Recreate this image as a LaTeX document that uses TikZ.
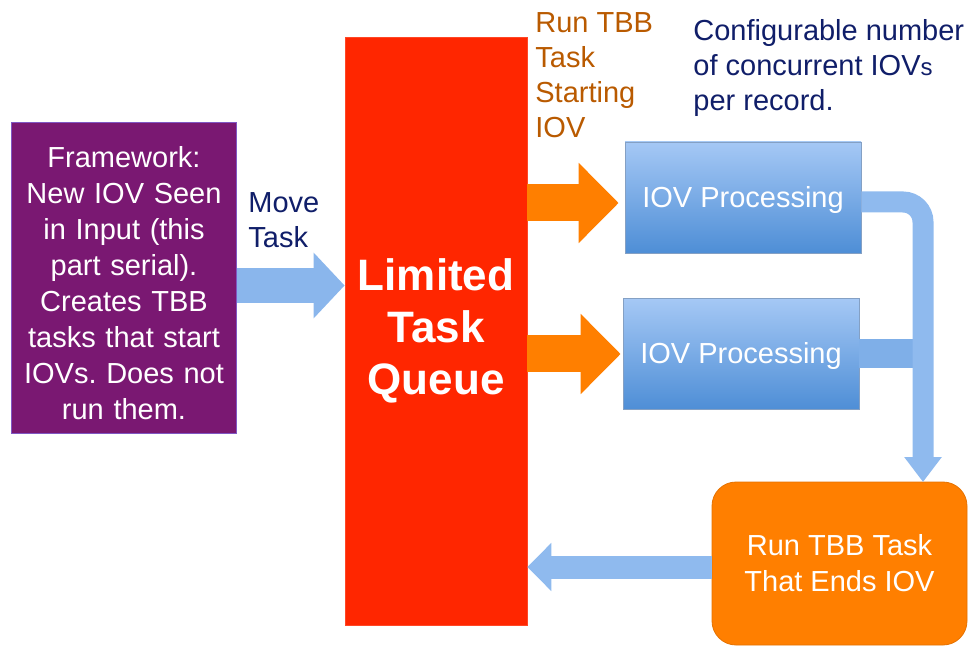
\documentclass[tikz,border=0pt]{standalone}
\usepackage{fontspec}
\setmainfont{Liberation Sans}
\usetikzlibrary{positioning, arrows.meta}
\frenchspacing

\definecolor{framepurple}{RGB}{122,24,114}
\definecolor{queuered}{RGB}{255,38,0}
\definecolor{taskorange}{RGB}{255,127,0}
\definecolor{labelorange}{RGB}{185,90,0}
\definecolor{labelnavy}{RGB}{16,30,105}
\definecolor{pipeblue}{RGB}{143,186,238}
\definecolor{boxtop}{RGB}{165,200,245}
\definecolor{boxbottom}{RGB}{78,142,214}

\begin{document}
\begin{tikzpicture}[
          x=0.5pt, y=-0.5pt,
          block/.style={
              rectangle, align=center, text=white,
              font=\fontsize{14.5}{18}\selectfont
          },
          iovbox/.style={
              block, top color=boxtop, bottom color=boxbottom, draw=boxtop!80!black,
              minimum width=118pt, minimum height=55.5pt, text height=13pt
          },
          label/.style={
              align=left, inner sep=0pt,
              font=\fontsize{14.5}{17.5}\selectfont
          },
          movearrow/.style={
              line width=17.5pt, draw=pipeblue!92!boxbottom,
              -{Triangle[length=15.5pt, width=32pt]}
          },
          runarrow/.style={
              line width=18.5pt, draw=taskorange,
              -{Triangle[length=20pt, width=39pt]}
          },
          pipe/.style={
              line width=10.5pt, draw=pipeblue, rounded corners=10pt,
              -{Triangle[length=12.5pt, width=18pt]}
          },
          stub/.style={line width=14.5pt, draw=pipeblue!75!boxbottom},
          backarrow/.style={
              line width=11.5pt, draw=pipeblue,
              -{Triangle[length=12pt, width=23.5pt]}
          },
      ]
          \useasboundingbox (0,0) rectangle (974,646);

          % Framework and queue blocks
          \node [block, fill=framepurple, draw=framepurple!60!blue!70!white,
                 text width=106pt, minimum width=110pt, minimum height=155.5pt, text height=16pt]
                 (frame) at (124,277.5)
                 {Framework:\\New IOV Seen\\in Input (this\\part serial).\\Creates TBB\\tasks that start\\IOVs. Does not\\run them.};
          \node [block, fill=queuered, draw=queuered!85!white,
                 minimum width=91pt, minimum height=294pt,
                 font=\fontsize{22}{26}\selectfont\bfseries]
                 (queue) at (436,331) {Limited\\Task\\Queue};

          % Processing blocks
          \node [iovbox] (iov1) at (743,197.5) {IOV Processing};
          \node [iovbox] (iov2) at (741,354) {IOV Processing};
          \node [block, fill=taskorange, draw=taskorange!90!black, rounded corners=12pt,
                 minimum width=127.5pt, minimum height=81.5pt]
                 (endtask) at (839.5,563.5) {Run TBB Task\\That Ends IOV};
          \coordinate (drop) at (923,482);

          % Labels
          \node [label, anchor=west, text=labelnavy] (movelabel) at (248,220) {Move\\Task};
          \node [label, anchor=west, text=labelorange] (runlabel) at (535,75.5) {Run TBB\\Task\\Starting\\IOV};
          \node [label, anchor=west, text=labelnavy] (conflabel) at (693,68)
                {Configurable number\\of concurrent IOV{\fontsize{12}{14}\selectfont s}\\per record.};

          % Arrows
          \draw [movearrow] ([yshift=-4pt]frame.east) -- ([yshift=-4pt]frame.east -| queue.west);
          \draw [runarrow] ([yshift=-2.75pt]queue.east |- iov1.west) -- ([yshift=-2.75pt,xshift=-3pt]iov1.west);
          \draw [runarrow] (queue.east |- iov2.west) -- ([xshift=-1pt]iov2.west);
          \draw [stub] (iov2.east) -- (iov2.east -| drop);
          \draw [pipe] ([yshift=-2.25pt]iov1.east) -| (drop);
          \draw [backarrow] ([yshift=-1.75pt]endtask.west) -- ([yshift=-1.75pt]endtask.west -| queue.east);
        \end{tikzpicture}
\end{document}
